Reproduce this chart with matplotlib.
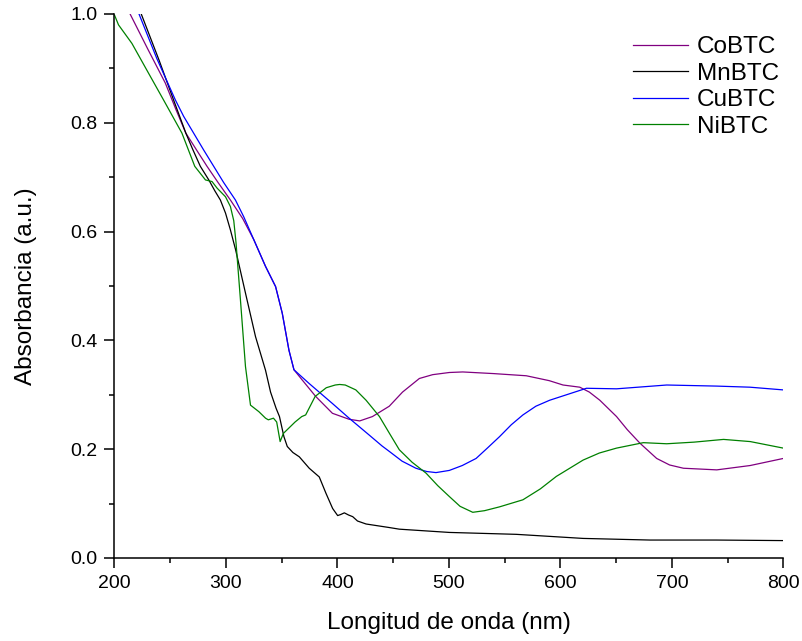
import matplotlib
matplotlib.use("Agg")
import matplotlib.pyplot as plt
from matplotlib.ticker import MultipleLocator

plt.rcParams['font.family'] = ['Liberation Sans', 'DejaVu Sans']

# CoBTC (purple)
co_x = [214, 230, 245.6, 255, 264, 273, 283, 293, 304, 315, 325, 335.5, 344.5, 350.5, 356.5, 361, 368.5,
        380.5, 395.5, 410.5, 420, 431.4, 446.5, 458.4, 473.5, 485.4, 500.4, 512.4, 540,
        569.4, 590, 602.4, 617.4, 626, 635.4, 650.4, 660, 671.4, 686.4, 698, 710.4, 740.3, 770.3, 800]
co_y = [1.0, 0.935, 0.873, 0.825, 0.781, 0.752, 0.720, 0.690, 0.658, 0.624, 0.585, 0.536, 0.499, 0.45, 0.382, 0.346, 0.327,
        0.297, 0.266, 0.255, 0.252, 0.260, 0.279, 0.305, 0.330, 0.337, 0.341, 0.342, 0.339,
        0.335, 0.326, 0.318, 0.314, 0.305, 0.290, 0.260, 0.236, 0.211, 0.183, 0.171, 0.165, 0.162, 0.170, 0.183]

# MnBTC (black)
mn_x = [224, 240, 253, 264, 270, 277, 284.6, 290, 295, 299.6, 304, 308.6, 317.5, 326.5, 335.5, 340, 345,
        348, 352, 355, 360, 365.8, 374.7, 383.7, 389.7, 395.7, 400.2, 403, 406.2, 410, 413.7, 418,
        425.7, 446.5, 455.5, 500.4, 560.4, 620.4, 680.4, 740, 800]
mn_y = [1.0, 0.915, 0.842, 0.781, 0.752, 0.720, 0.695, 0.675, 0.658, 0.634, 0.603, 0.567, 0.487, 0.407, 0.345, 0.305, 0.275,
        0.26, 0.223, 0.205, 0.194, 0.186, 0.165, 0.149, 0.119, 0.091, 0.078, 0.080, 0.083, 0.079, 0.076, 0.068,
        0.0625, 0.056, 0.053, 0.047, 0.0435, 0.036, 0.033, 0.033, 0.032]

# CuBTC (blue)
cu_x = [222, 238, 254.6, 262, 271, 280, 289, 298, 308.5, 316, 325, 335.5, 344.5, 350.5, 356.5, 361,
        374.5, 395.5, 410.5, 428.5, 440, 446.5, 458, 470.4, 480, 488.4, 500.4, 512, 524.4, 535, 545.4,
        556, 566.4, 578, 590.4, 605.4, 623.4, 650.4, 695.4, 740.3, 770, 800]
cu_y = [1.0, 0.918, 0.842, 0.812, 0.781, 0.750, 0.720, 0.690, 0.658, 0.627, 0.585, 0.536, 0.499, 0.45, 0.382, 0.346,
        0.321, 0.284, 0.257, 0.226, 0.206, 0.196, 0.178, 0.165, 0.159, 0.157, 0.161, 0.170, 0.183, 0.203, 0.223,
        0.245, 0.263, 0.279, 0.290, 0.300, 0.312, 0.311, 0.318, 0.316, 0.314, 0.309]

# NiBTC (green)
ni_x = [200, 203.6, 215.6, 230.6, 244, 260.5, 272, 281.6, 287.5, 292, 299.6, 304, 307, 309,
        313, 317.5, 322, 329.5, 335.5, 338, 342.6, 345.5, 348.6, 351.5, 362, 368, 371.5, 380,
        390, 398, 402, 407, 416.5, 425.7, 437.7, 446.7, 455.5, 467, 479.5, 490, 500.4, 510, 521.4, 532, 545.4,
        566.4, 582, 596.4, 620.4, 635, 650.4, 674.4, 695.4, 720, 746.4, 770.4, 800]
ni_y = [0.998, 0.98, 0.946, 0.891, 0.842, 0.781, 0.720, 0.695, 0.692, 0.68, 0.664, 0.646, 0.62, 0.58,
        0.474, 0.352, 0.281, 0.269, 0.257, 0.254, 0.257, 0.25, 0.214, 0.229, 0.25, 0.26, 0.263, 0.297,
        0.313, 0.318, 0.319, 0.318, 0.309, 0.290, 0.26, 0.229, 0.199, 0.176, 0.156, 0.133, 0.113, 0.095, 0.084, 0.087, 0.094,
        0.107, 0.127, 0.150, 0.180, 0.193, 0.202, 0.212, 0.210, 0.213, 0.218, 0.214, 0.202]

fig = plt.figure(figsize=(8.02, 6.41), dpi=100)
ax = fig.add_axes([114.5 / 802, 83 / 641, (783.3 - 114.5) / 802, (558 - 14) / 641])

lw = 0.9
ax.plot(co_x, co_y, color='#800080', lw=lw, label='CoBTC')
ax.plot(mn_x, mn_y, color='black', lw=lw, label='MnBTC')
ax.plot(cu_x, cu_y, color='blue', lw=lw, label='CuBTC')
ax.plot(ni_x, ni_y, color='green', lw=lw, label='NiBTC')

ax.set_xlim(200, 800)
ax.set_ylim(0, 1.0)
ax.xaxis.set_major_locator(MultipleLocator(100))
ax.xaxis.set_minor_locator(MultipleLocator(50))
ax.yaxis.set_major_locator(MultipleLocator(0.2))
ax.yaxis.set_minor_locator(MultipleLocator(0.1))
ax.yaxis.set_major_formatter(plt.FuncFormatter(lambda v, p: f'{v:.1f}'))

ax.spines['top'].set_visible(False)
ax.spines['right'].set_visible(False)
ax.spines['left'].set_linewidth(1.1)
ax.spines['bottom'].set_linewidth(1.1)
ax.tick_params(which='major', direction='out', length=7.5, width=1.1, labelsize=14, pad=5)
ax.tick_params(which='minor', direction='out', length=3.8, width=1.1)

ax.set_xlabel('Longitud de onda (nm)', fontsize=17.5, labelpad=14)
ax.set_ylabel('Absorbancia (a.u.)', fontsize=17.5, labelpad=24)

ax.legend(loc='upper left', bbox_to_anchor=((633 - 114.5) / 668.8, (558 - 36) / 544),
          frameon=False, fontsize=17.5, borderpad=0, borderaxespad=0,
          handlelength=2.26, handletextpad=0.37, labelspacing=0.19)

fig.savefig('out.png', dpi=100)
